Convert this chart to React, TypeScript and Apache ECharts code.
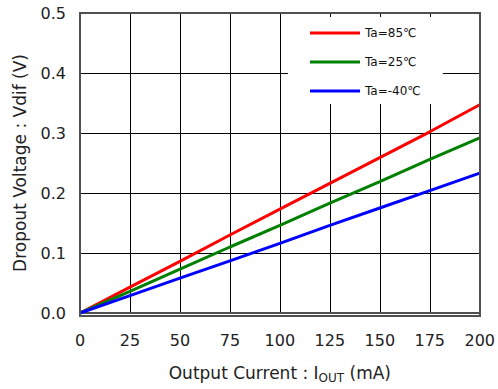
import React, { useEffect, useRef } from "react";
import * as echarts from "echarts";

const currents = [0, 25, 50, 75, 100, 125, 150, 175, 200];
const vdif85 = [0, 0.043, 0.086, 0.13, 0.173, 0.216, 0.259, 0.302, 0.347];
const vdif25 = [0, 0.036, 0.073, 0.11, 0.146, 0.183, 0.219, 0.256, 0.292];
const vdifM40 = [0, 0.029, 0.058, 0.087, 0.116, 0.146, 0.175, 0.204, 0.233];
const seriesNames = ["Ta=85℃", "Ta=25℃", "Ta=-40℃"];
const seriesColors = ["#ff0000", "#008000", "#0000ff"];

const FONT = "'DejaVu Sans', sans-serif";

export default function App() {
  const ref = useRef<HTMLDivElement>(null);

  useEffect(() => {
    if (!ref.current) return;
    document.body.style.margin = "0";
    const chart = echarts.init(ref.current, undefined, { renderer: "svg" });
    const data = [vdif85, vdif25, vdifM40];
    chart.setOption({
      animation: false,
      backgroundColor: "#ffffff",
      grid: { left: 80, right: 18, top: 13, bottom: 73, containLabel: false },
      legend: {
        orient: "vertical",
        left: 288,
        top: 17,
        backgroundColor: "#ffffff",
        padding: [10, 22, 7, 22],
        itemWidth: 50,
        itemHeight: 3,
        itemGap: 17,
        icon: "rect",
        data: seriesNames,
        textStyle: { fontFamily: FONT, fontSize: 12, color: "#111" },
      },
      xAxis: {
        type: "value",
        min: 0,
        max: 200,
        interval: 25,
        name: "Output Current : I{sub|OUT} (mA)",
        nameLocation: "middle",
        nameGap: 49,
        nameTextStyle: {
          fontFamily: FONT,
          fontSize: 17,
          color: "#222",
          rich: {
            sub: { fontFamily: FONT, fontSize: 12, color: "#222", padding: [10, 0, 0, 0] },
          },
        },
        axisLine: { show: true, lineStyle: { color: "#505050", width: 2 } },
        axisTick: { show: false },
        axisLabel: { fontFamily: FONT, fontSize: 16, color: "#222", margin: 19 },
        splitLine: { show: true, lineStyle: { color: "#000", width: 1 } },
      },
      yAxis: {
        type: "value",
        min: 0,
        max: 0.5,
        interval: 0.1,
        name: "Dropout Voltage : Vdif (V)",
        nameLocation: "middle",
        nameGap: 52,
        nameTextStyle: { fontFamily: FONT, fontSize: 17, color: "#222" },
        axisLine: { show: true, lineStyle: { color: "#505050", width: 2 } },
        axisTick: { show: false },
        axisLabel: {
          fontFamily: FONT,
          fontSize: 16,
          color: "#222",
          margin: 14,
          formatter: (v: number) => v.toFixed(1),
        },
        splitLine: { show: true, lineStyle: { color: "#000", width: 1 } },
      },
      graphic: [
        {
          type: "rect",
          shape: { x: 80, y: 13, width: 400, height: 303 },
          style: { fill: "none", stroke: "#505050", lineWidth: 2 },
          z: 10,
          silent: true,
        },
      ],
      series: data.map((vals, i) => ({
        name: seriesNames[i],
        type: "line",
        showSymbol: false,
        symbol: "none",
        data: currents.map((c, j) => [c, vals[j]]),
        lineStyle: { color: seriesColors[i], width: 3 },
        itemStyle: { color: seriesColors[i] },
        z: 3,
      })),
    });
    return () => chart.dispose();
  }, []);

  return (
    <div
      ref={ref}
      style={{ width: 498, height: 389, position: "fixed", left: 0, top: 0 }}
    />
  );
}
